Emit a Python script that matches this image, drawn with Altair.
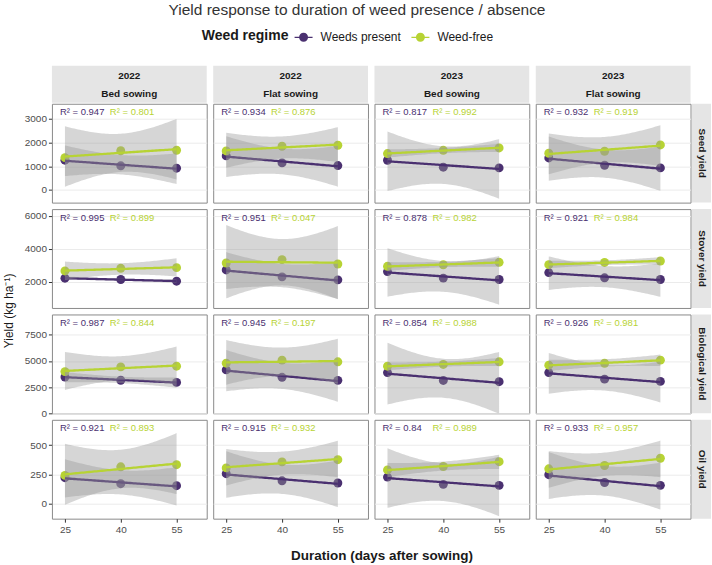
import altair as alt
import numpy as np
import pandas as pd

# ---------------- data ----------------
main_title = "Yield response to duration of weed presence / absence"
years = ["2022", "2022", "2023", "2023"]
sowings = ["Bed sowing", "Flat sowing", "Bed sowing", "Flat sowing"]
yield_types = ["Seed yield", "Stover yield", "Biological yield", "Oil yield"]
regimes = ["Weeds present", "Weed-free"]
durations = [25, 40, 55]

# per panel (2022 Bed, 2022 Flat, 2023 Bed, 2023 Flat): values at 25, 40, 55 DAS
seed_wp = [[1253, 1016, 916], [1435, 1140, 1027], [1252, 957, 928], [1350, 1040, 928]]
seed_wf = [[1363, 1654, 1675], [1646, 1844, 1886], [1533, 1671, 1772], [1547, 1632, 1899]]
stover_wp = [[2220, 2141, 2040], [2720, 2302, 2120], [2620, 2225, 2140], [2560, 2243, 2140]]
stover_wf = [[2660, 2818, 2860], [3140, 3344, 3080], [2940, 3032, 3180], [3040, 3174, 3260]]
bio_wp = [[3459, 3149, 2942], [4138, 3428, 3136], [3879, 3131, 3007], [3879, 3253, 3039]]
bio_wf = [[3976, 4427, 4493], [4784, 5074, 4913], [4493, 4663, 4913], [4590, 4774, 5074]]
oil_wp = [[221.6, 170.2, 153.3], [255.7, 194.9, 176.0], [227.0, 164.7, 156.0], [247.0, 180.4, 156.0]]
oil_wf = [[241.0, 314.2, 332.5], [305.0, 356.4, 375.0], [288.0, 316.6, 358.0], [297.0, 325.5, 387.0]]

r2_wp = [[0.947, 0.934, 0.817, 0.932],
         [0.995, 0.951, 0.878, 0.921],
         [0.987, 0.945, 0.854, 0.926],
         [0.921, 0.915, 0.84, 0.933]]
r2_wf = [[0.801, 0.876, 0.992, 0.919],
         [0.899, 0.047, 0.982, 0.984],
         [0.844, 0.197, 0.988, 0.981],
         [0.893, 0.932, 0.989, 0.957]]

y_domains = [[-540, 3640], [420, 6400], [-20, 9450], [-128, 715]]
y_ticks = [[0, 1000, 2000, 3000], [2000, 4000, 6000], [0, 2500, 5000, 7500], [0, 250, 500]]
x_domain = [21.5, 63.1]
x_ticks = [25, 40, 55]

wp_values = [seed_wp, stover_wp, bio_wp, oil_wp]
wf_values = [seed_wf, stover_wf, bio_wf, oil_wf]

# ---------------- styling ----------------
COLORS = {"Weeds present": "#4a3070", "Weed-free": "#b7d334"}
FONT = "Liberation Sans"
PW, PH = 155, 99
SP = 6.5
T975_DF1 = 12.7062  # Student t quantile used by lm confidence band (n = 3)
LEGEND_PATH = ("M-1,-0.075H1V0.075H-1Z "
               "M0.5,0A0.5,0.5,0,1,1,-0.5,0A0.5,0.5,0,1,1,0.5,0Z")


def smooth(ys):
    x = np.array(durations, float)
    y = np.array(ys, float)
    b, a = np.polyfit(x, y, 1)
    s = np.sqrt(((y - (a + b * x)) ** 2).sum() / (len(x) - 2))
    g = np.linspace(min(durations), max(durations), 61)
    fit = a + b * g
    se = s * np.sqrt(1 / len(x) + (g - x.mean()) ** 2 / ((x - x.mean()) ** 2).sum())
    return pd.DataFrame({"x": g, "fit": fit, "lo": fit - T975_DF1 * se, "hi": fit + T975_DF1 * se})


legend = alt.Legend(
    title="Weed regime", orient="none", legendX=150, legendY=-33,
    direction="horizontal", titleOrient="left",
    titleFontSize=14, titleFontWeight="bold", titleColor="#1a1a1a", titleFont=FONT,
    labelFontSize=12, labelColor="#1a1a1a", labelFont=FONT,
    symbolType=LEGEND_PATH, symbolSize=324, symbolStrokeWidth=0, symbolOpacity=1,
    labelOffset=8, columnPadding=10, titlePadding=6,
)


def panel(r, c):
    first_col = c == 0
    last_row = r == 3
    xa = dict(values=x_ticks, labels=last_row, ticks=last_row, domain=False, grid=False,
              labelFontSize=10, labelColor="#4d4d4d", tickColor="#333333", tickSize=3.5,
              labelPadding=2, labelFont=FONT, format="d")
    if last_row and c == 1:
        xa.update(title="Duration (days after sowing)", titleX=168.5, titleY=36.5,
                  titleAlign="center", titleBaseline="middle", titleFontSize=13.5,
                  titleFontWeight="bold", titleColor="#1a1a1a", titleFont=FONT)
    else:
        xa.update(title=None)
    ya = dict(values=y_ticks[r], labels=first_col, ticks=first_col, domain=False, grid=True,
              labelFontSize=10, labelColor="#4d4d4d", tickColor="#333333", tickSize=3.5,
              labelPadding=2, labelFont=FONT, format="d")
    if first_col and r == 1:
        ya.update(title="Yield (kg ha⁻¹)", titleX=-43, titleY=101.5, titleAngle=270,
                  titleAlign="center", titleBaseline="middle", titleFontSize=12,
                  titleFontWeight="normal", titleColor="#1a1a1a", titleFont=FONT)
    else:
        ya.update(title=None)
    x_axis = alt.Axis(**xa)
    y_axis = alt.Axis(**ya)
    xs = alt.Scale(domain=x_domain, nice=False, zero=False)
    ys = alt.Scale(domain=y_domains[r], nice=False, zero=False)

    groups = {"Weeds present": wp_values[r][c], "Weed-free": wf_values[r][c]}
    pts = pd.DataFrame([
        {"regime": g, "x": d, "v": v}
        for g in regimes for d, v in zip(durations, groups[g])
    ])
    layers = [
        alt.Chart(pts).mark_circle(size=80, opacity=1).encode(
            x=alt.X("x:Q", scale=xs, axis=x_axis),
            y=alt.Y("v:Q", scale=ys, axis=y_axis),
            color=alt.Color("regime:N", scale=alt.Scale(domain=regimes, range=[COLORS[g] for g in regimes]),
                            legend=legend),
        )
    ]
    for g in regimes:
        sm = smooth(groups[g])
        layers.append(alt.Chart(sm).mark_area(color="#999999", opacity=0.4, clip=True).encode(
            x=alt.X("x:Q", scale=xs, axis=x_axis),
            y=alt.Y("lo:Q", scale=ys, axis=y_axis),
            y2="hi:Q",
        ))
        layers.append(alt.Chart(sm).mark_line(color=COLORS[g], strokeWidth=2.3).encode(
            x=alt.X("x:Q", scale=xs, axis=x_axis),
            y=alt.Y("fit:Q", scale=ys, axis=y_axis),
        ))
    lab = pd.DataFrame({"wp": [f"R² = {r2_wp[r][c]}"], "wf": [f"R² = {r2_wf[r][c]}"]})
    layers.append(alt.Chart(lab).mark_text(align="left", baseline="middle", fontSize=9.5,
                                           color=COLORS["Weeds present"], font=FONT).encode(
        x=alt.value(8), y=alt.value(8.5), text="wp:N"))
    layers.append(alt.Chart(lab).mark_text(align="left", baseline="middle", fontSize=9.5,
                                           color=COLORS["Weed-free"], font=FONT).encode(
        x=alt.value(58), y=alt.value(8.5), text="wf:N"))
    return alt.layer(*layers).properties(width=PW, height=PH)


def header(c):
    df = pd.DataFrame({"year": [years[c]], "sowing": [sowings[c]]})
    base = alt.Chart(df)
    rect = base.mark_rect(color="#e5e5e5").encode(
        x=alt.value(0), x2=alt.value(PW), y=alt.value(4.5), y2=alt.value(41.5))
    t1 = base.mark_text(fontWeight="bold", fontSize=10, color="#1a1a1a", font=FONT).encode(
        x=alt.value(PW / 2), y=alt.value(14.5), text="year:N")
    t2 = base.mark_text(fontWeight="bold", fontSize=10, color="#1a1a1a", font=FONT).encode(
        x=alt.value(PW / 2), y=alt.value(32.8), text="sowing:N")
    return alt.layer(rect, t1, t2).properties(
        width=PW, height=36, view=alt.ViewBackground(stroke="transparent"))


def strip(r):
    df = pd.DataFrame({"label": [yield_types[r]]})
    base = alt.Chart(df)
    rect = base.mark_rect(color="#e5e5e5").encode(
        x=alt.value(-5), x2=alt.value(14), y=alt.value(0), y2=alt.value(PH))
    t = base.mark_text(fontWeight="bold", fontSize=10, color="#1a1a1a", angle=90, font=FONT).encode(
        x=alt.value(4.5), y=alt.value(PH / 2), text="label:N")
    return alt.layer(rect, t).properties(
        width=14, height=PH, view=alt.ViewBackground(stroke="transparent"))


corner = alt.Chart(pd.DataFrame({"a": [0]})).mark_rect(opacity=0).encode(
    x=alt.value(0), y=alt.value(0)).properties(
    width=14, height=36, view=alt.ViewBackground(stroke="transparent"))

cells = [header(c) for c in range(4)] + [corner]
for r in range(4):
    cells += [panel(r, c) for c in range(4)] + [strip(r)]

chart = alt.concat(
    *cells, columns=5, spacing=SP, bounds="flush",
    title=alt.Title(main_title, fontSize=15.5, fontWeight="normal", color="#333333",
                    font=FONT, anchor="middle", offset=10),
).properties(
    padding={"left": 2, "top": 2, "right": 0, "bottom": 2}
).configure_view(
    stroke="#8a8a8a", strokeWidth=1
).configure_axis(
    gridColor="#ebebeb", gridWidth=1
)

chart.save("out.html", embed_options={"renderer": "svg", "actions": False})
